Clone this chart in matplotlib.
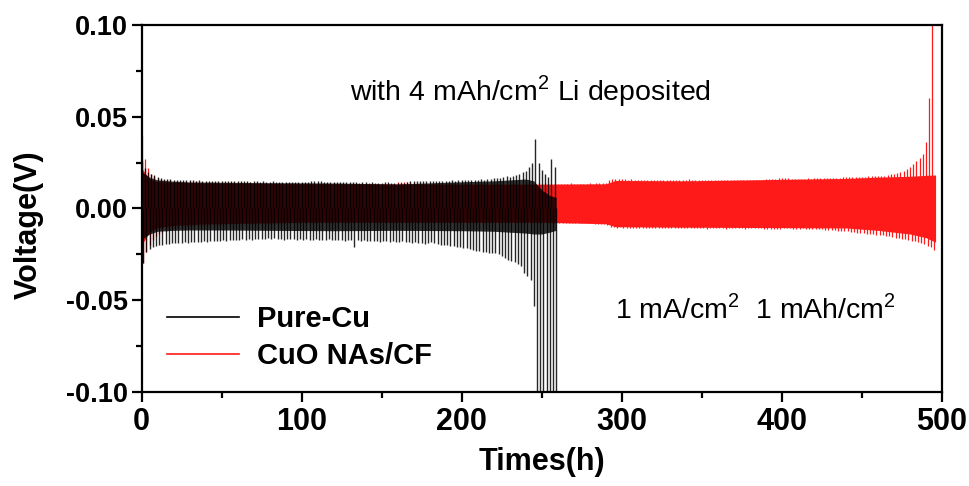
import numpy as np
import matplotlib
matplotlib.use("Agg")
import matplotlib.pyplot as plt
from matplotlib.lines import Line2D

plt.rcParams['font.family'] = ['Liberation Sans', 'DejaVu Sans']
plt.rcParams['mathtext.fontset'] = 'custom'
plt.rcParams['mathtext.rm'] = 'Liberation Sans'

# ---- data (mV), one value per 2 h cycle: peak at start of + half, trough at start of - half
cu_cycle_h = np.arange(0, 260, 2)
cu_up_mv = [
    26, 22, 20, 19, 18, 17, 16.5, 16, 16, 15.8,
    15.6, 15.5, 15.5, 15.3, 15.4, 15.2, 15.3, 15.1, 15.2, 15.0,
    15.1, 15.0, 14.9, 15.0, 14.8, 14.9, 15.0, 14.8, 14.9, 14.7,
    14.8, 14.9, 14.7, 14.8, 14.6, 14.7, 14.8, 14.6, 14.7, 14.5,
    14.6, 14.7, 14.5, 14.6, 14.4, 14.5, 14.6, 14.4, 14.5, 14.6,
    14.4, 14.5, 14.6, 14.8, 14.7, 14.9, 14.8, 14.6, 14.5, 14.4,
    14.3, 14.4, 14.3, 14.2, 14.4, 14.3, 14.2, 14.1, 14.0, 14.1,
    14.2, 14.0, 14.1, 14.0, 13.9, 14.0, 14.1, 14.2, 14.0, 13.8,
    13.6, 13.8, 14.0, 14.6, 14.8, 14.7, 14.9, 14.8, 14.7, 14.9,
    15.0, 14.8, 14.9, 15.0, 15.1, 14.9, 15.0, 15.2, 15.1, 15.3,
    15.4, 15.2, 15.5, 15.6, 15.4, 15.7, 15.8, 15.6, 16.0, 16.2,
    16.4, 16.8, 16.6, 17.0, 17.4, 17.2, 17.8, 18.4, 18.8, 19.6,
    20.5, 22.5, 24.5, 38.0, 25.0, 21.0, 19.0, 17.0, 27.0, 22.5,
]
cu_lo_mv = [
    -30, -24, -22, -21, -20.5, -20, -20, -19.5, -19.5, -19,
    -19, -18.8, -19, -18.6, -18.8, -18.4, -18.6, -18.2, -18.4, -18.0,
    -18.2, -17.8, -18.0, -17.6, -17.8, -17.4, -17.6, -17.2, -17.4, -17.0,
    -17.2, -16.8, -17.0, -16.8, -17.0, -16.6, -16.8, -16.6, -16.8, -16.4,
    -16.6, -16.4, -16.8, -16.6, -17.0, -16.8, -16.6, -16.8, -17.0, -16.8,
    -17.0, -16.8, -17.2, -17.0, -16.8, -17.0, -17.2, -17.0, -16.8, -17.0,
    -17.2, -17.4, -17.0, -17.6, -17.2, -17.4, -21.3, -17.2, -17.6, -17.4,
    -17.8, -17.6, -18.0, -17.8, -18.2, -17.8, -18.0, -18.4, -18.0, -18.2,
    -18.4, -18.0, -18.6, -18.4, -18.8, -18.6, -19.0, -18.8, -19.2, -19.0,
    -18.6, -19.0, -19.4, -19.8, -20.0, -20.2, -20.6, -20.8, -21.0, -21.2,
    -21.5, -21.8, -22.2, -22.6, -23.0, -23.2, -23.6, -24.0, -24.2, -24.5,
    -24.5, -25.0, -26.0, -27.0, -28.0, -28.5, -29.5, -30.5, -31.5, -35.0,
    -37.0, -39.0, -53.0, -120, -120, -120, -120, -120, -120, -120,
]
# dense plateau band of Pure-Cu
cu_band_h = [0, 5, 10, 20, 30, 50, 80, 120, 160, 200, 220, 230, 240, 245, 250, 255, 259]
cu_band_up_mv = [20, 17, 15.5, 14.8, 14.4, 14.2, 14.0, 13.8, 13.3, 14.5, 15.0, 15.5, 16.0, 15.0, 10.0, 7.0, 6.0]
cu_band_lo_mv = [-17, -14, -12.5, -12, -11.8, -11.8, -12.0, -12.2, -12.0, -12.2, -12.5, -13.0, -13.5, -14, -14, -13, -12]

cuo_cycle_h = np.arange(0, 496, 2)
cuo_up_mv = [
    40, 27, 22, 19, 17.5, 16.5, 16, 15.6, 15.4, 15.2,
    15.0, 14.9, 14.8, 14.9, 14.7, 14.8, 14.6, 14.7, 14.6, 14.5,
    14.6, 14.5, 14.4, 14.5, 14.4, 14.3, 14.4, 14.3, 14.2, 14.3,
    14.2, 14.3, 14.1, 14.2, 14.1, 14.0, 14.1, 14.0, 14.1, 14.0,
    14.0, 13.9, 14.0, 13.9, 13.8, 13.9, 13.8, 13.9, 13.8, 13.7,
    13.8, 13.7, 13.8, 13.7, 13.6, 13.7, 13.6, 13.7, 13.6, 13.5,
    13.6, 13.5, 13.6, 13.5, 13.4, 13.5, 13.4, 13.5, 13.4, 13.3,
    13.4, 13.3, 13.4, 13.3, 13.2, 13.3, 13.2, 13.3, 13.2, 13.3,
    14.5, 14.6, 14.5, 14.6, 14.5, 13.6, 13.5, 13.6, 13.5, 13.4,
    13.5, 13.4, 13.5, 13.4, 13.5, 13.4, 13.3, 13.4, 13.3, 13.4,
    13.4, 13.3, 13.4, 13.3, 13.4, 13.3, 13.4, 13.3, 13.4, 13.3,
    13.4, 13.3, 13.4, 13.3, 13.4, 13.3, 13.4, 13.3, 13.4, 13.3,
    13.4, 13.3, 13.4, 13.5, 13.6, 13.5, 13.6, 13.5, 13.4, 13.5,
    13.4, 13.5, 13.4, 13.5, 13.6, 13.5, 13.4, 13.5, 13.4, 13.5,
    13.6, 13.5, 13.6, 13.7, 13.8, 14.0, 15.6, 15.8, 15.9, 15.8,
    15.9, 15.8, 15.7, 15.8, 15.6, 15.5, 15.6, 15.4, 15.5, 15.4,
    15.5, 15.4, 15.5, 15.4, 15.3, 15.4, 15.5, 15.4, 15.3, 15.4,
    15.6, 15.8, 15.6, 15.5, 15.4, 15.5, 15.3, 15.4, 15.2, 15.3,
    15.4, 15.3, 15.4, 15.5, 15.4, 15.5, 15.4, 15.5, 15.6, 15.5,
    15.6, 15.5, 15.6, 15.7, 15.6, 15.8, 15.9, 16.0, 16.2, 16.3,
    16.4, 16.3, 16.4, 16.2, 16.1, 16.0, 16.1, 16.2, 16.3, 16.2,
    16.3, 16.4, 16.5, 16.4, 16.6, 16.5, 16.7, 16.6, 16.8, 16.9,
    16.9, 17.0, 17.0, 17.1, 17.2, 17.2, 17.3, 17.4, 17.5, 17.6,
    17.7, 17.8, 17.9, 18.2, 18.5, 18.8, 19.2, 19.6, 20.2, 21.2,
    22.5, 24.0, 26.0, 27.5, 29.6, 36.0, 60.0, 120.0,
]
cuo_lo_mv = [
    -30, -24, -20, -17, -15, -14, -13, -12.5, -12, -11.5,
    -11, -10.8, -10.6, -10.4, -10.2, -10, -9.8, -9.6, -9.5, -9.4,
    -9.3, -9.2, -9.2, -9.1, -9.0, -9.0, -8.9, -8.9, -8.8, -8.8,
    -8.8, -8.7, -8.7, -8.6, -8.6, -8.6, -8.5, -8.5, -8.5, -8.4,
    -8.4, -8.4, -8.3, -8.3, -8.3, -8.2, -8.2, -8.2, -8.1, -8.1,
    -8.1, -8.0, -8.0, -8.0, -8.0, -7.9, -7.9, -7.9, -7.9, -7.8,
    -7.8, -7.8, -7.8, -7.8, -7.7, -7.7, -7.7, -7.7, -7.7, -7.7,
    -7.6, -7.6, -7.6, -7.6, -7.6, -7.6, -7.6, -7.6, -7.6, -7.6,
    -7.6, -7.6, -7.6, -7.6, -7.6, -7.6, -7.6, -7.6, -7.6, -7.6,
    -7.6, -7.6, -7.6, -7.6, -7.6, -7.6, -7.6, -7.6, -7.6, -7.6,
    -7.6, -7.6, -7.6, -7.6, -7.6, -7.6, -7.6, -7.6, -7.6, -7.6,
    -7.6, -7.6, -7.6, -7.6, -7.6, -7.6, -7.6, -7.6, -7.6, -7.6,
    -7.7, -7.8, -7.7, -7.8, -7.9, -7.8, -7.9, -8.0, -7.9, -8.0,
    -7.8, -7.9, -7.8, -7.9, -8.0, -7.9, -8.0, -8.1, -8.0, -8.1,
    -8.2, -8.3, -8.4, -8.6, -8.8, -9.2, -10.2, -10.4, -10.5, -10.4,
    -10.5, -10.6, -10.5, -10.7, -10.6, -10.5, -10.6, -10.7, -10.6, -10.5,
    -10.6, -10.7, -10.6, -10.5, -10.6, -10.5, -10.6, -10.7, -10.6, -10.7,
    -10.8, -10.9, -10.8, -10.7, -10.8, -10.9, -11.0, -10.9, -10.8, -10.9,
    -10.8, -10.9, -11.0, -10.9, -10.8, -10.7, -10.8, -10.9, -11.0, -10.9,
    -10.8, -10.9, -10.8, -10.9, -11.0, -11.2, -11.1, -11.0, -11.1, -11.0,
    -10.9, -10.8, -10.9, -11.0, -11.1, -11.0, -10.9, -11.0, -11.1, -11.2,
    -11.3, -11.4, -11.5, -11.6, -11.8, -11.9, -12.0, -12.2, -12.3, -12.5,
    -12.6, -12.8, -13.0, -13.2, -13.4, -13.6, -13.8, -14.0, -14.2, -14.4,
    -14.6, -14.8, -15.0, -15.3, -15.6, -15.9, -16.2, -16.5, -16.8, -17.2,
    -17.6, -18.0, -18.4, -19.0, -19.6, -20.4, -21.2, -22.5,
]
cuo_band_h = [0, 5, 10, 20, 40, 100, 200, 250, 290, 296, 340, 400, 440, 460, 480, 490, 496]
cuo_band_up_mv = [22, 16, 14.5, 14.2, 13.8, 13.4, 13.2, 13.2, 13.4, 15.2, 15.0, 15.8, 16.3, 17.0, 17.5, 18.0, 18.2]
cuo_band_lo_mv = [-20, -13, -10.5, -9.3, -8.5, -7.6, -7.6, -7.6, -8.4, -10.0, -10.3, -10.5, -10.7, -12.0, -14.0, -16.0, -18.5]

fig = plt.figure(figsize=(9.7, 4.86), dpi=100)
ax = fig.add_axes([141.5 / 970, 1 - 391.7 / 486, 800.5 / 970, 366.7 / 486])

red = '#ff1a1a'
# CuO NAs/CF (underneath)
ax.fill_between(cuo_band_h, np.array(cuo_band_lo_mv) / 1000, np.array(cuo_band_up_mv) / 1000,
                color=red, lw=0, zorder=1)
ax.vlines(cuo_cycle_h, 0, np.array(cuo_up_mv) / 1000, color=red, lw=0.9, zorder=1)
ax.vlines(cuo_cycle_h + 1, np.array(cuo_lo_mv) / 1000, 0, color=red, lw=0.9, zorder=1)

# Pure-Cu on top, slightly see-through
ax.fill_between(cu_band_h, np.array(cu_band_lo_mv) / 1000, np.array(cu_band_up_mv) / 1000,
                color='black', alpha=0.8, lw=0, zorder=2)
ax.vlines(cu_cycle_h, 0, np.array(cu_up_mv) / 1000, color='black', alpha=0.85, lw=1.0, zorder=2)
ax.vlines(cu_cycle_h + 1, np.array(cu_lo_mv) / 1000, 0, color='black', alpha=0.85, lw=1.0, zorder=2)

ax.set_xlim(0, 500)
ax.set_ylim(-0.1, 0.1)
ax.set_xticks([0, 100, 200, 300, 400, 500])
ax.set_xticks([50, 150, 250, 350, 450], minor=True)
ax.set_yticks([-0.1, -0.05, 0, 0.05, 0.1])
ax.set_yticks([-0.075, -0.025, 0.025, 0.075], minor=True)
ax.set_yticklabels(['-0.10', '-0.05', '0.00', '0.05', '0.10'])

for s in ax.spines.values():
    s.set_linewidth(1.6)
ax.tick_params(which='major', direction='out', length=7, width=1.6)
ax.tick_params(which='minor', direction='out', length=4, width=1.6)
ax.tick_params(axis='y', labelsize=19.5, pad=3)
ax.tick_params(axis='x', labelsize=22, pad=4)
for lab in ax.get_yticklabels() + ax.get_xticklabels():
    lab.set_fontweight('bold')

ax.set_xlabel('Times(h)', fontsize=22, fontweight='bold')
ax.xaxis.set_label_coords(0.5, -0.15)
ax.set_ylabel('Voltage(V)', fontsize=22, fontweight='bold')
ax.yaxis.set_label_coords(-0.122, 0.455)

ax.text(242.7, 0.064, 'with 4 mAh/cm$^2$ Li deposited', ha='center', va='center', fontsize=20.5)
ax.text(295.5, -0.055, '1 mA/cm$^2$  1 mAh/cm$^2$', ha='left', va='center', fontsize=20.5)

handles = [Line2D([], [], color='black', lw=1.2), Line2D([], [], color=red, lw=1.2)]
ax.legend(handles, ['Pure-Cu', 'CuO NAs/CF'], loc='center left', bbox_to_anchor=(0.032, 0.148),
          frameon=False, prop={'weight': 'bold', 'size': 21}, handlelength=2.45,
          labelspacing=0.3, handletextpad=0.62, borderpad=0, borderaxespad=0)

fig.savefig('out.png', dpi=100)
